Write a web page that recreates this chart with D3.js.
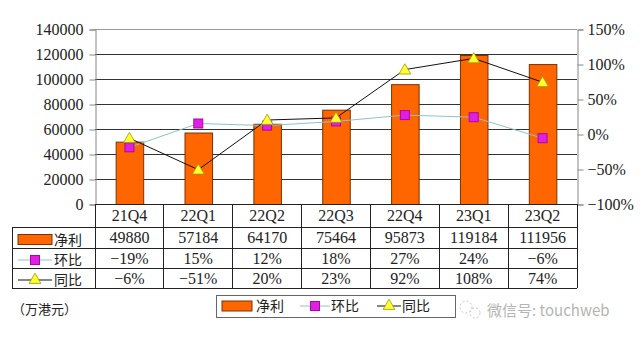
<!DOCTYPE html>
<html><head><meta charset="utf-8">
<script src="https://cdn.jsdelivr.net/npm/d3@7/dist/d3.min.js"></script>
<style>body{margin:0;background:#fff}svg{display:block}</style>
</head><body><svg id="c" width="640" height="339"></svg>
<script>
const categories = ["21Q4","22Q1","22Q2","22Q3","22Q4","23Q1","23Q2"];
const netProfit = [49880,57184,64170,75464,95873,119184,111956];
const qoq = [-19,15,12,18,27,24,-6];
const yoy = [-6,-51,20,23,92,108,74];
const leftTicks = [0,20000,40000,60000,80000,100000,120000,140000];
const rightTicks = [-100,-50,0,50,100,150];
const seriesNames = ["净利","环比","同比"];
const unitLabel = "（万港元）";
const watermark = "微信号: touchweb";

const svg = d3.select("#c");
const L = 95, R = 577, T = 29, B = 204;
const rowY = [204, 227, 248, 268, 288];
const tableLeft = 12;
const numFont = "'Liberation Serif','DejaVu Serif',serif";
const cjkFont = "'Noto Sans CJK SC',sans-serif";

const x = d3.scaleBand().domain(categories).range([L, R]).padding(0);
const y = d3.scaleLinear().domain([0,140000]).range([B, T]);
const y2 = d3.scaleLinear().domain([-100,150]).range([B, T]);

// gridlines
svg.append("g").selectAll("line").data(leftTicks.filter(d=>d>0)).join("line")
  .attr("x1", L).attr("x2", R).attr("y1", d=>y(d)+0.5).attr("y2", d=>y(d)+0.5)
  .attr("stroke", d=> d===140000 ? "#999" : "#333").attr("stroke-width", 1);

// bars
const bw = x.bandwidth()*0.4;
svg.append("g").selectAll("rect").data(netProfit).join("rect")
  .attr("x", (d,i)=>x(categories[i]) + x.bandwidth()/2 - bw/2 + 0.5)
  .attr("y", d=>y(d)+0.5)
  .attr("width", bw).attr("height", d=>B - y(d))
  .attr("fill", "#FF6600").attr("stroke", "#7a3200").attr("stroke-width", 1);

// axes
const leftAxis = d3.axisLeft(y).tickValues(leftTicks).tickSize(6).tickFormat(d=>d);
const gL = svg.append("g").attr("transform", `translate(${L+0.5},0.5)`).call(leftAxis);
gL.select(".domain").attr("stroke", "#888");
gL.selectAll(".tick line").attr("stroke", "#888");
gL.selectAll("text").attr("font-family", numFont).attr("font-size", 16).attr("fill", "#222").attr("x", -12);

const rightAxis = d3.axisRight(y2).tickValues(rightTicks).tickSize(6).tickFormat(d=>d+"%");
const gR = svg.append("g").attr("transform", `translate(${R+0.5},0.5)`).call(rightAxis);
gR.select(".domain").attr("stroke", "#888");
gR.selectAll(".tick line").attr("stroke", "#888");
gR.selectAll("text").attr("font-family", numFont).attr("font-size", 16).attr("fill", "#222").attr("x", 10)
  .text(d=> d<0 ? "\u2212"+Math.abs(d)+"%" : d+"%");

// lines
const cx = (i)=>x(categories[i]) + x.bandwidth()/2;
const lineQ = d3.line().x((d,i)=>cx(i)).y(d=>y2(d));
svg.append("path").datum(qoq).attr("d", lineQ).attr("fill","none").attr("stroke","#8cc4c8").attr("stroke-width",1);
svg.append("path").datum(yoy).attr("d", lineQ).attr("fill","none").attr("stroke","#111").attr("stroke-width",1);

svg.append("g").selectAll("rect").data(qoq).join("rect")
  .attr("x",(d,i)=>cx(i)-4.5).attr("y",d=>y2(d)-4.5).attr("width",9).attr("height",9)
  .attr("fill","#e020e0").attr("stroke","#b000b0");
const tri = d3.symbol().type(d3.symbolTriangle).size(60);
svg.append("g").selectAll("path").data(yoy).join("path")
  .attr("d", tri).attr("transform",(d,i)=>`translate(${cx(i)},${y2(d)+1})`)
  .attr("fill","#ffff33").attr("stroke","#999900").attr("stroke-width",0.8);

// table
const tg = svg.append("g").attr("stroke","#222").attr("stroke-width",1).attr("shape-rendering","crispEdges");
tg.append("line").attr("x1",L).attr("x2",R).attr("y1",B).attr("y2",B);
[1,2,3,4].forEach(k=>{
  tg.append("line").attr("x1",tableLeft).attr("x2",R).attr("y1",rowY[k]).attr("y2",rowY[k]);
});
tg.append("line").attr("x1",tableLeft).attr("x2",tableLeft).attr("y1",rowY[1]).attr("y2",rowY[4]);
categories.forEach((c,i)=>{
  tg.append("line").attr("x1",x(c)).attr("x2",x(c)).attr("y1",B).attr("y2",rowY[4]);
});
tg.append("line").attr("x1",R).attr("x2",R).attr("y1",B).attr("y2",rowY[4]);

const rows = [categories, netProfit.map(String), qoq.map(d=>(d<0?"\u2212"+(-d):d)+"%"), yoy.map(d=>(d<0?"\u2212"+(-d):d)+"%")];
rows.forEach((vals,r)=>{
  svg.append("g").selectAll("text").data(vals).join("text")
    .attr("x",(d,i)=>cx(i)).attr("y",(rowY[r]+rowY[r+1])/2+5.5)
    .attr("text-anchor","middle").attr("font-family",numFont).attr("font-size",16).attr("fill","#222")
    .text(d=>d);
});

// table legend column
function drawBarIcon(g,x0,yc,w){
  g.append("rect").attr("x",x0).attr("y",yc-5).attr("width",w).attr("height",10).attr("fill","#FF6600").attr("stroke","#7a3200");
}
function drawQoqIcon(g,x0,yc,w){
  g.append("line").attr("x1",x0).attr("x2",x0+w).attr("y1",yc).attr("y2",yc).attr("stroke","#8cc4c8");
  g.append("rect").attr("x",x0+w/2-4.5).attr("y",yc-4.5).attr("width",9).attr("height",9).attr("fill","#e020e0").attr("stroke","#b000b0");
}
function drawYoyIcon(g,x0,yc,w){
  g.append("line").attr("x1",x0).attr("x2",x0+w).attr("y1",yc).attr("y2",yc).attr("stroke","#111");
  g.append("path").attr("d",tri).attr("transform",`translate(${x0+w/2},${yc})`).attr("fill","#ffff33").attr("stroke","#999900").attr("stroke-width",0.8);
}
const lg = svg.append("g");
const icons = [drawBarIcon, drawQoqIcon, drawYoyIcon];
icons.forEach((f,k)=>{
  const yc = (rowY[k+1]+rowY[k+2])/2 + 2;
  f(lg, 18, yc, 34);
  lg.append("text").attr("x",54).attr("y",yc+5).attr("font-family",cjkFont).attr("font-size",14).attr("fill","#222").text(seriesNames[k]);
});

// unit label
svg.append("text").attr("x",12).attr("y",314).attr("font-family",cjkFont).attr("font-size",13).attr("fill","#222").text(unitLabel);

// bottom legend
const bl = svg.append("g");
bl.append("rect").attr("x",216.5).attr("y",295.5).attr("width",239).attr("height",22).attr("fill","#fff").attr("stroke","#666");
drawBarIcon(bl,222,306,30);
bl.append("text").attr("x",256).attr("y",311).attr("font-family",cjkFont).attr("font-size",14).attr("fill","#222").text(seriesNames[0]);
drawQoqIcon(bl,300,306,30);
bl.append("text").attr("x",331).attr("y",311).attr("font-family",cjkFont).attr("font-size",14).attr("fill","#222").text(seriesNames[1]);
drawYoyIcon(bl,377,306,24);
bl.append("text").attr("x",402).attr("y",311).attr("font-family",cjkFont).attr("font-size",14).attr("fill","#222").text(seriesNames[2]);

// watermark
const wm = svg.append("g").attr("opacity",0.55);
wm.append("circle").attr("cx",466).attr("cy",307).attr("r",6).attr("fill","none").attr("stroke","#999").attr("stroke-dasharray","2,2");
wm.append("circle").attr("cx",475).attr("cy",313).attr("r",5).attr("fill","none").attr("stroke","#999").attr("stroke-dasharray","2,2");
wm.append("text").attr("x",487).attr("y",316).attr("font-family",cjkFont).attr("font-size",15).attr("fill","#777").text(watermark);
</script></body></html>
